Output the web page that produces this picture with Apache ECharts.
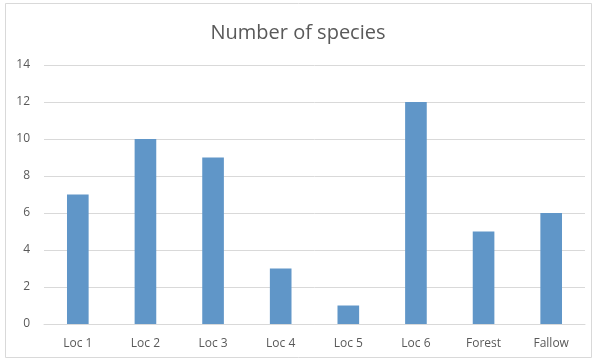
<!DOCTYPE html>
<html><head><meta charset="utf-8">
<script src="https://cdn.jsdelivr.net/npm/echarts@6/dist/echarts.min.js"></script>
<style>html,body{margin:0;padding:0;background:#fff}#c{width:596px;height:362px}</style>
</head><body><div id="c"></div>
<script>
const categories = ['Loc 1','Loc 2','Loc 3','Loc 4','Loc 5','Loc 6','Forest','Fallow'];
const speciesCounts = [7,10,9,3,1,12,5,6];
const titleText = 'Number of species';
const font = '"Open Sans", "Liberation Sans", sans-serif';
const chart = echarts.init(document.getElementById('c'), null, {renderer:'canvas'});
chart.setOption({
  animation:false,
  backgroundColor:'#fff',
  graphic:[{type:'rect',shape:{x:5.5,y:3.5,width:586,height:354},style:{fill:'none',stroke:'#d9d9d9',lineWidth:1}}],
  title:{text:titleText,left:'center',top:18,textStyle:{fontFamily:font,fontSize:20,fontWeight:'normal',color:'#595959'}},
  grid:{left:44,right:11,top:65,bottom:38,containLabel:false},
  xAxis:{type:'category',data:categories,
    axisLine:{show:true,lineStyle:{color:'#d9d9d9',width:1}},
    axisTick:{show:false},
    axisLabel:{fontFamily:font,fontSize:12,color:'#595959',margin:14}},
  yAxis:{type:'value',min:0,max:14,interval:2,
    axisLine:{show:false},axisTick:{show:false},
    splitLine:{lineStyle:{color:'#d9d9d9',width:1}},
    axisLabel:{fontFamily:font,fontSize:12,color:'#595959',margin:14}},
  series:[{type:'bar',data:speciesCounts,barWidth:'32%',itemStyle:{color:'#6096c8'}}]
});
</script></body></html>
